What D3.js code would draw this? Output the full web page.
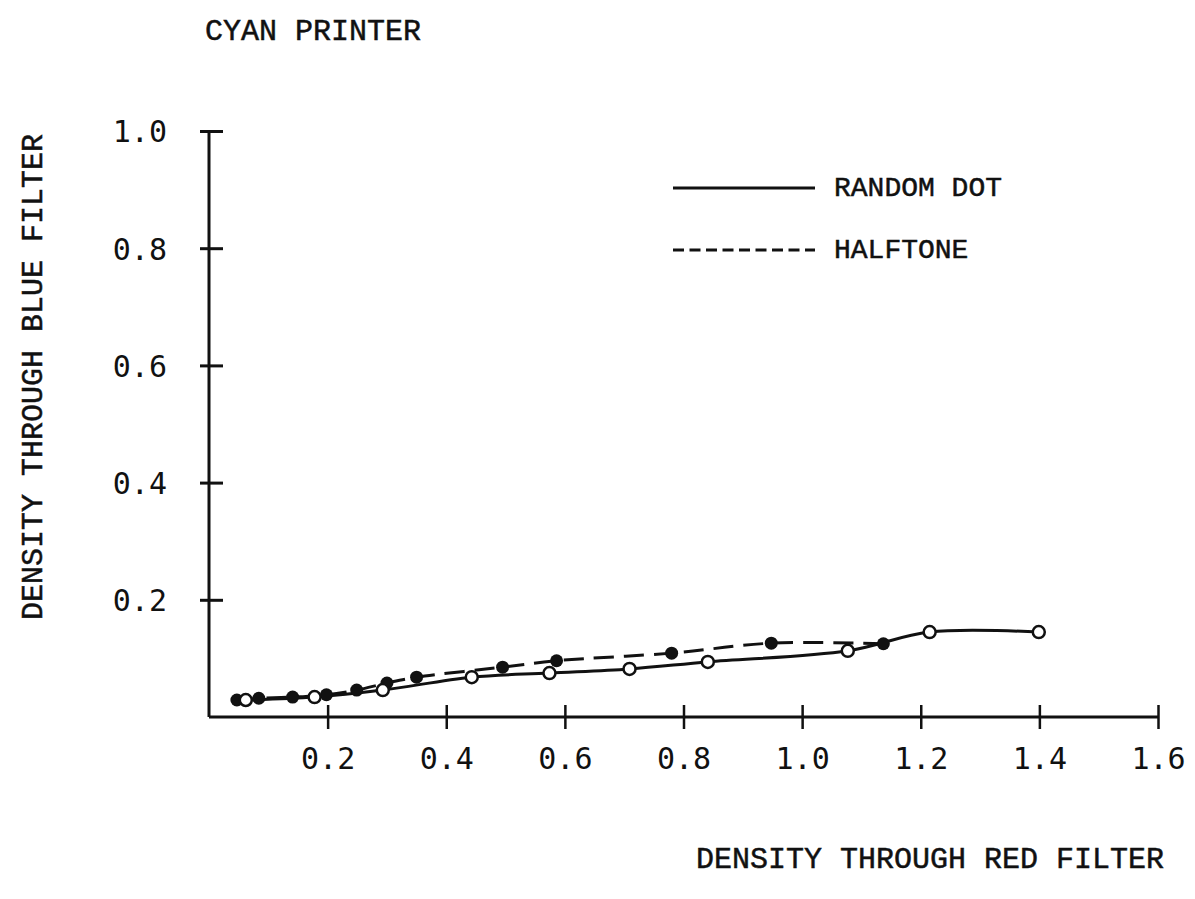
<!DOCTYPE html>
<html>
<head>
<meta charset="utf-8">
<script src="https://cdn.jsdelivr.net/npm/d3@7"></script>
<style>
  body { margin: 0; background: #fff; }
  svg { display: block; }
  .lbl { font-family: "Courier New", "Liberation Mono", monospace; fill: #111; stroke: #111; stroke-width: 0.5px; }
  .tick text { font-family: "DejaVu Sans Mono", monospace; fill: #111; }
</style>
</head>
<body>
<div id="chart"></div>
<script>
'use strict';

// values
var xTicks = [0.2, 0.4, 0.6, 0.8, 1.0, 1.2, 1.4, 1.6];
var yTicks = [0.2, 0.4, 0.6, 0.8, 1.0];

// halftone (filled dots, dashed)
var halftoneX = [0.047, 0.084, 0.141, 0.198, 0.249, 0.300, 0.350, 0.495, 0.586, 0.780, 0.948, 1.137];
var halftoneY = [0.029, 0.032, 0.034, 0.038, 0.046, 0.058, 0.068, 0.085, 0.096, 0.109, 0.126, 0.125];

// random dot (open dots, solid)
var randomX = [0.062, 0.178, 0.293, 0.443, 0.574, 0.709, 0.841, 1.077, 1.215, 1.399];
var randomY = [0.029, 0.034, 0.046, 0.068, 0.075, 0.082, 0.094, 0.113, 0.145, 0.145];

var seriesNames = ['RANDOM DOT', 'HALFTONE'];

var width = 1195, height = 899;

var svg = d3.select('#chart').append('svg')
    .attr('width', width)
    .attr('height', height);

var x = d3.scaleLinear().domain([0, 1.6]).range([209, 1158]);
var y = d3.scaleLinear().domain([0, 1.0]).range([717, 131]);

var halftone = halftoneX.map(function(d, i) { return [d, halftoneY[i]]; });
var random = randomX.map(function(d, i) { return [d, randomY[i]]; });

// axes
var xAxis = svg.append('g')
    .attr('transform', 'translate(0,' + y(0) + ')')
    .call(d3.axisBottom(x).tickValues(xTicks).tickSizeOuter(0).tickSize(12)
        .tickFormat(d3.format('.1f')));
xAxis.select('.domain').attr('d', 'M' + x(0) + ',0H' + x(1.6))
    .attr('stroke', '#111').attr('stroke-width', 3);
xAxis.selectAll('.tick line').attr('y1', -12).attr('y2', 12)
    .attr('stroke', '#111').attr('stroke-width', 2.5);
xAxis.selectAll('.tick text').attr('y', 52).attr('dy', 0)
    .style('font-size', '30px');

var yAxis = svg.append('g')
    .attr('transform', 'translate(' + x(0) + ',0)')
    .call(d3.axisLeft(y).tickValues(yTicks).tickSizeOuter(0).tickSize(9)
        .tickFormat(d3.format('.1f')));
yAxis.select('.domain').attr('d', 'M0,' + y(0) + 'V' + y(1.0))
    .attr('stroke', '#111').attr('stroke-width', 3);
yAxis.selectAll('.tick line').attr('x1', -9).attr('x2', 14)
    .attr('stroke', '#111').attr('stroke-width', 3);
yAxis.selectAll('.tick text').attr('x', -42).attr('dy', '0.36em')
    .style('font-size', '30px');

// lines
var line = d3.line()
    .x(function(d) { return x(d[0]); })
    .y(function(d) { return y(d[1]); })
    .curve(d3.curveCatmullRom.alpha(0.5));

svg.append('path')
    .datum(halftone)
    .attr('d', line)
    .attr('fill', 'none')
    .attr('stroke', '#111')
    .attr('stroke-width', 3)
    .attr('stroke-dasharray', '20,10');

svg.append('path')
    .datum(random)
    .attr('d', line)
    .attr('fill', 'none')
    .attr('stroke', '#111')
    .attr('stroke-width', 3);

svg.append('g').selectAll('circle')
    .data(halftone)
    .enter().append('circle')
    .attr('cx', function(d) { return x(d[0]); })
    .attr('cy', function(d) { return y(d[1]); })
    .attr('r', 6.5)
    .attr('fill', '#111');

svg.append('g').selectAll('circle')
    .data(random)
    .enter().append('circle')
    .attr('cx', function(d) { return x(d[0]); })
    .attr('cy', function(d) { return y(d[1]); })
    .attr('r', 6)
    .attr('fill', '#fff')
    .attr('stroke', '#111')
    .attr('stroke-width', 2.5);

// legend
var legend = svg.append('g');
legend.append('line')
    .attr('x1', 673).attr('x2', 815).attr('y1', 188).attr('y2', 188)
    .attr('stroke', '#111').attr('stroke-width', 3);
legend.append('line')
    .attr('x1', 673).attr('x2', 815).attr('y1', 250).attr('y2', 250)
    .attr('stroke', '#111').attr('stroke-width', 3)
    .attr('stroke-dasharray', '11,5.5');
legend.selectAll('text')
    .data(seriesNames)
    .enter().append('text')
    .attr('class', 'lbl')
    .attr('x', 834)
    .attr('y', function(d, i) { return 196 + i * 62; })
    .style('font-size', '28px')
    .text(function(d) { return d; });

// titles
svg.append('text')
    .attr('class', 'lbl')
    .attr('x', 205).attr('y', 40)
    .style('font-size', '30px')
    .text('CYAN PRINTER');

svg.append('text')
    .attr('class', 'lbl')
    .attr('text-anchor', 'middle')
    .attr('transform', 'translate(42,377) rotate(-90)')
    .style('font-size', '30px')
    .text('DENSITY THROUGH BLUE FILTER');

svg.append('text')
    .attr('class', 'lbl')
    .attr('text-anchor', 'middle')
    .attr('x', 930).attr('y', 868)
    .style('font-size', '30px')
    .text('DENSITY THROUGH RED FILTER');
</script>
</body>
</html>
